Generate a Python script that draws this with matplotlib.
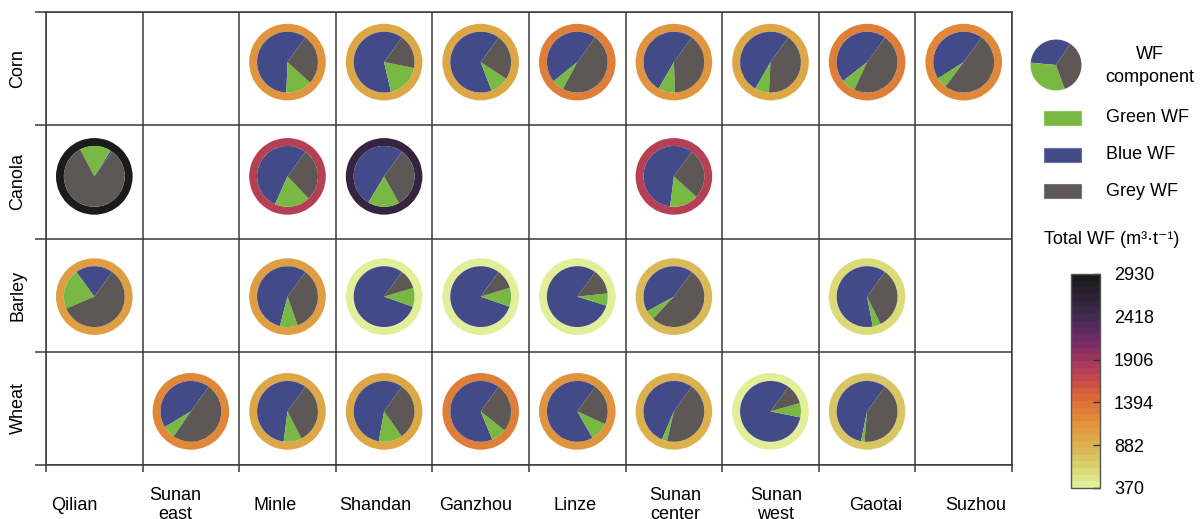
import numpy as np
import matplotlib.pyplot as plt
import matplotlib.transforms as mtransforms
from matplotlib.colors import LinearSegmentedColormap, Normalize
from matplotlib.cm import ScalarMappable
from matplotlib.patches import Rectangle

plt.rcParams['font.family'] = ['Liberation Sans', 'DejaVu Sans']

nan = np.nan

crops = ['Corn', 'Canola', 'Barley', 'Wheat']
sites = ['Qilian', 'Sunan\neast', 'Minle', 'Shandan', 'Ganzhou', 'Linze',
         'Sunan\ncenter', 'Sunan\nwest', 'Gaotai', 'Suzhou']

# share of each WF component per crop (rows) and site (columns)
blue_share = np.array([
    [nan, nan, 0.594, 0.636, 0.658, 0.458, 0.517, 0.517, 0.456, 0.440],
    [0.010, nan, 0.533, 0.514, nan, nan, 0.580, nan, nan, nan],
    [0.200, nan, 0.560, 0.796, 0.797, 0.802, 0.430, nan, 0.630, nan],
    [nan, 0.436, 0.580, 0.572, 0.662, 0.683, 0.536, 0.819, 0.568, nan],
])
green_share = np.array([
    [nan, nan, 0.139, 0.183, 0.100, 0.064, 0.089, 0.075, 0.075, 0.058],
    [0.167, nan, 0.189, 0.167, nan, nan, 0.152, nan, nan, nan],
    [0.214, nan, 0.094, 0.100, 0.100, 0.065, 0.050, nan, 0.043, nan],
    [nan, 0.068, 0.096, 0.126, 0.081, 0.098, 0.028, 0.076, 0.018, nan],
])
grey_share = np.array([
    [nan, nan, 0.267, 0.181, 0.242, 0.478, 0.394, 0.408, 0.469, 0.502],
    [0.823, nan, 0.278, 0.319, nan, nan, 0.268, nan, nan, nan],
    [0.586, nan, 0.346, 0.104, 0.103, 0.133, 0.520, nan, 0.327, nan],
    [nan, 0.496, 0.324, 0.302, 0.257, 0.219, 0.436, 0.106, 0.414, nan],
])
# total water footprint, m3 per tonne
total_wf = np.array([
    [nan, nan, 1100, 940, 960, 1320, 1150, 930, 1250, 1200],
    [2930, nan, 1800, 2560, nan, nan, 1800, nan, nan, nan],
    [1050, nan, 1080, 420, 420, 380, 830, nan, 540, nan],
    [nan, 1200, 950, 950, 1320, 1150, 850, 390, 720, nan],
])
cbar_ticks = [370, 882, 1394, 1906, 2418, 2930]

BLUE = '#434a88'
GREEN = '#78b843'
GREY = '#5d5756'
LINE = '#3a3a3a'

cmap = LinearSegmentedColormap.from_list('wf', [
    (0.000, '#e2ee98'), (0.074, '#dad874'), (0.137, '#d8c260'),
    (0.200, '#dcae4a'), (0.266, '#de9c40'), (0.324, '#e08838'),
    (0.400, '#de7038'), (0.461, '#d4583e'), (0.520, '#c2444e'),
    (0.600, '#a4365c'), (0.676, '#7c2c68'), (0.734, '#602a64'),
    (0.800, '#482a54'), (0.871, '#342440'), (0.949, '#241e28'),
    (1.000, '#1c1a1c')], N=32)
norm = Normalize(vmin=370, vmax=2930)

W, H = 1200, 519
fig = plt.figure(figsize=(W / 100, H / 100), dpi=100)

# overlay in pixel coordinates for the legend pieces
lax = fig.add_axes([0, 0, 1, 1])
lax.set_xlim(0, W)
lax.set_ylim(H, 0)
lax.axis('off')

ax = fig.add_axes([46 / W, 1 - 465 / H, 966 / W, 453 / H])
ncol, nrow = len(sites), len(crops)
ax.set_xlim(0, ncol)
ax.set_ylim(0, nrow)
ax.set_xticks([])
ax.set_yticks([])
ax.set_xticks(np.arange(ncol + 1), minor=True)
ax.set_yticks(np.arange(nrow + 1), minor=True)
ax.grid(which='minor', color=LINE, lw=1.1)
ax.tick_params(which='minor', axis='y', direction='out', length=8, width=1.1, color=LINE)
ax.tick_params(which='minor', axis='x', direction='out', length=5, width=1.1, color=LINE)
for s in ax.spines.values():
    s.set_color(LINE)
    s.set_linewidth(1.1)
ax.set_axisbelow(True)

# small vertical nudge of the pies in each row (pixels)
row_shift = [6.5, 5.5, -1.5, -3.0]
r_out, r_in = 0.793, 0.63

for r in range(nrow):
    y0 = nrow - 1 - r
    for c in range(ncol):
        if np.isnan(total_wf[r, c]):
            continue
        ins = ax.inset_axes([c, y0 + row_shift[r] / 113.25, 1, 1], transform=ax.transData)
        ins.pie([1], radius=r_out, colors=[cmap(norm(total_wf[r, c]))],
                wedgeprops=dict(width=r_out - r_in, linewidth=0))
        ins.pie([blue_share[r, c], green_share[r, c], grey_share[r, c]],
                radius=r_in, startangle=54, counterclock=True,
                colors=[BLUE, GREEN, GREY], wedgeprops=dict(linewidth=0))
        ins.set_aspect('equal')
        ins.set_xlim(-1, 1)
        ins.set_ylim(-1, 1)
        ins.axis('off')

# row and column labels
tr_rows = mtransforms.blended_transform_factory(ax.transAxes, ax.transData)
for r, name in enumerate(crops):
    ax.text(-28 / 966, nrow - r - 0.5, name, transform=tr_rows, rotation=90,
            ha='center', va='center', fontsize=13)
tr_cols = mtransforms.blended_transform_factory(ax.transData, ax.transAxes)
for c, name in enumerate(sites):
    ax.text(0.296 + 1.037 * c, -40 / 453, name, transform=tr_cols,
            ha='center', va='center', fontsize=13, linespacing=1.2)

# legend: component pie icon
pax = fig.add_axes([(1056 - 26) / W, 1 - (65 + 26) / H, 52 / W, 52 / H])
pax.pie([0.33, 0.32, 0.35], radius=0.98, startangle=56, counterclock=True,
        colors=[BLUE, GREEN, GREY], wedgeprops=dict(linewidth=0))
pax.set_aspect('equal')
pax.set_xlim(-1, 1)
pax.set_ylim(-1, 1)
pax.axis('off')
lax.text(1150, 66, 'WF\ncomponent', ha='center', va='center', fontsize=13, linespacing=1.45)

legend_items = [('Green WF', GREEN, '#8cc860'), ('Blue WF', BLUE, '#6a70a8'),
                ('Grey WF', GREY, '#7a7474')]
for i, (lab, fc, ec) in enumerate(legend_items):
    yc = 118 + 36.5 * i
    lax.add_patch(Rectangle((1044, yc - 7), 37, 14, facecolor=fc, edgecolor=ec, lw=0.8))
    lax.text(1106, yc, lab, ha='left', va='center', fontsize=13)

lax.text(1112, 240, 'Total WF (m\u00b3\u00b7t\u207b\u00b9)', ha='center', va='center', fontsize=13)

# colour bar for total WF
cax = fig.add_axes([1071 / W, 1 - 488 / H, 29 / W, 214 / H])
cb = fig.colorbar(ScalarMappable(norm=norm, cmap=cmap), cax=cax, ticks=cbar_ticks)
cb.ax.tick_params(direction='in', length=5, width=1, color='#333333', pad=10, labelsize=13)
cb.outline.set_edgecolor('#555555')
cb.outline.set_linewidth(1.0)

fig.savefig('out.png', dpi=100, facecolor='white')
